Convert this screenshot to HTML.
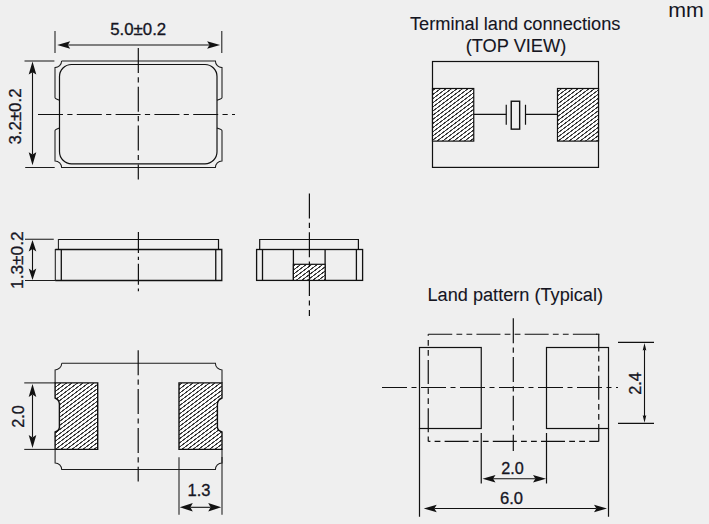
<!DOCTYPE html>
<html><head><meta charset="utf-8"><title>Dimensions</title>
<style>
html,body{margin:0;padding:0;background:#efefef;}
svg{display:block;font-family:"Liberation Sans",Arial,Helvetica,sans-serif;fill:#15151f;}
text{stroke:#15151f;}
</style></head>
<body>
<svg width="709" height="524" viewBox="0 0 709 524">
<defs>
<pattern id="h" patternUnits="userSpaceOnUse" width="20" height="3.31" patternTransform="rotate(-37)">
<rect x="0" y="0" width="20" height="3.31" fill="#fff"/>
<line x1="0" y1="1.65" x2="20" y2="1.65" stroke="#000" stroke-width="1.0"/>
</pattern>
<filter id="c" x="0" y="0" width="1" height="1" color-interpolation-filters="sRGB"><feComponentTransfer><feFuncR type="linear" slope="4" intercept="-1.38"/><feFuncG type="linear" slope="4" intercept="-1.38"/><feFuncB type="linear" slope="4" intercept="-1.38"/></feComponentTransfer></filter>
</defs>
<rect x="0" y="0" width="709" height="524" fill="#efefef"/>
<path d="M61.6 61 H215.4 A6.6 6.6 0 0 0 222 67.6 V97.6 Q221.8 98.6 217 100.2 M217 128 Q221.8 129.6 222 130.6 V160.9 A6.6 6.6 0 0 0 215.4 167.5 H61.6 A6.6 6.6 0 0 0 55 160.9 V130.6 Q55.2 129.6 59.5 128 M59.5 100.2 Q55.2 98.6 55 97.6 V67.6 A6.6 6.6 0 0 0 61.6 61" fill="none" stroke="#1c1c1c" stroke-width="1.05"/>
<rect x="59.5" y="64.5" width="157.5" height="99.3" rx="12" fill="none" stroke="#111111" stroke-width="1.2"/>
<line x1="55.0" y1="31" x2="55.0" y2="53" stroke="#1c1c1c" stroke-width="1.05"/>
<line x1="221.8" y1="31" x2="221.8" y2="53" stroke="#1c1c1c" stroke-width="1.05"/>
<line x1="24.5" y1="61" x2="54.4" y2="61" stroke="#1c1c1c" stroke-width="1.05"/>
<line x1="25.2" y1="167.5" x2="54.7" y2="167.5" stroke="#1c1c1c" stroke-width="1.05"/>
<line x1="67.80" y1="45.00" x2="209.50" y2="45.00" stroke="#111111" stroke-width="1.1"/>
<path d="M57.20 45.00 L70.20 48.80 L67.80 45.00 L70.20 41.20 Z" fill="#111111"/>
<path d="M220.10 45.00 L207.10 48.80 L209.50 45.00 L207.10 41.20 Z" fill="#111111"/>
<line x1="32.50" y1="72.20" x2="32.50" y2="154.60" stroke="#111111" stroke-width="1.1"/>
<path d="M32.50 61.60 L28.70 74.60 L32.50 72.20 L36.30 74.60 Z" fill="#111111"/>
<path d="M32.50 165.20 L28.70 152.20 L32.50 154.60 L36.30 152.20 Z" fill="#111111"/>
<line x1="38" y1="114.5" x2="235" y2="114.5" stroke="#111111" stroke-width="1.2" stroke-dasharray="25 4.3 5.2 4.3" stroke-dashoffset="0"/>
<line x1="138.3" y1="48" x2="138.3" y2="179.6" stroke="#111111" stroke-width="1.2" stroke-dasharray="25 4.3 5.2 4.3" stroke-dashoffset="0"/>
<text x="138.2" y="34.6" font-size="15.6" stroke-width="0.3" text-anchor="middle" textLength="56" lengthAdjust="spacingAndGlyphs">5.0±0.2</text>
<text transform="translate(20.5 116.5) rotate(-90)" font-size="15.6" stroke-width="0.3" text-anchor="middle" textLength="56" lengthAdjust="spacingAndGlyphs">3.2±0.2</text>
<path d="M58.4 239.5 H218.5 V249.5" fill="none" stroke="#111111" stroke-width="1.2"/>
<line x1="58.4" y1="238.9" x2="58.4" y2="249.5" stroke="#1c1c1c" stroke-width="1.05"/>
<line x1="55.3" y1="248.9" x2="55.3" y2="281.1" stroke="#1c1c1c" stroke-width="1.05"/>
<path d="M55.3 249.5 H221.8 V280.5 H55.3" fill="none" stroke="#111111" stroke-width="1.3"/>
<line x1="61.3" y1="249.5" x2="61.3" y2="280.5" stroke="#111111" stroke-width="1.3"/>
<line x1="215.75" y1="249.5" x2="215.75" y2="280.5" stroke="#111111" stroke-width="1.3"/>
<line x1="25" y1="239.25" x2="53.75" y2="239.25" stroke="#1c1c1c" stroke-width="1.05"/>
<line x1="25" y1="280.5" x2="55" y2="280.5" stroke="#1c1c1c" stroke-width="1.05"/>
<line x1="32.50" y1="249.00" x2="32.50" y2="270.90" stroke="#111111" stroke-width="1.1"/>
<path d="M32.50 239.90 L28.70 251.40 L32.50 249.00 L36.30 251.40 Z" fill="#111111"/>
<path d="M32.50 280.00 L28.70 268.50 L32.50 270.90 L36.30 268.50 Z" fill="#111111"/>
<text transform="translate(23.1 260.2) rotate(-90)" font-size="15.6" stroke-width="0.3" text-anchor="middle" textLength="57.5" lengthAdjust="spacingAndGlyphs">1.3±0.2</text>
<line x1="138.4" y1="232" x2="138.4" y2="291.3" stroke="#111111" stroke-width="1.2" stroke-dasharray="21 3.8 3.3 3.7" stroke-dashoffset="0"/>
<path d="M259.7 249.5 V239.5 H358.4 V249.5" fill="none" stroke="#111111" stroke-width="1.2"/>
<rect x="256.6" y="249.5" width="106" height="30.9" fill="none" stroke="#111111" stroke-width="1.3"/>
<line x1="262.5" y1="249.5" x2="262.5" y2="280.4" stroke="#111111" stroke-width="1.3"/>
<line x1="356.4" y1="249.5" x2="356.4" y2="280.4" stroke="#111111" stroke-width="1.3"/>
<line x1="293.4" y1="249.5" x2="293.4" y2="280.4" stroke="#111111" stroke-width="1.3"/>
<line x1="325.1" y1="249.5" x2="325.1" y2="280.4" stroke="#111111" stroke-width="1.3"/>
<rect x="293.4" y="264.3" width="31.7" height="16.1" fill="url(#h)" filter="url(#c)"/><rect x="293.4" y="264.3" width="31.7" height="16.1" fill="none" stroke="#111111" stroke-width="1.2"/>
<line x1="309.4" y1="193.5" x2="309.4" y2="316" stroke="#111111" stroke-width="1.2" stroke-dasharray="25 4.3 5.2 4.3" stroke-dashoffset="0"/>
<path d="M61.7 363.3 H215.4 A6.6 6.6 0 0 0 222 369.9 V382.9 M222 449.4 V462.9 A6.6 6.6 0 0 0 215.4 469.5 H61.7 A6.6 6.6 0 0 0 55.1 462.9 V449.4 M55.1 382.9 V369.9 A6.6 6.6 0 0 0 61.7 363.3" fill="none" stroke="#1c1c1c" stroke-width="1.05"/>
<path d="M55.1 382.9 H97.7 V449.4 H55.1 V432 Q59.1 430.8 59.4 427.4 V404 Q59.1 399.6 55.1 398 Z" fill="url(#h)" filter="url(#c)"/><path d="M55.1 382.9 H97.7 V449.4 H55.1 V432 Q59.1 430.8 59.4 427.4 V404 Q59.1 399.6 55.1 398 Z" fill="none" stroke="#111111" stroke-width="1.4"/>
<path d="M179 382.9 H222 V398 Q217.8 399.6 217.4 404 V427.4 Q217.8 430.8 222 432 V449.4 H179 Z" fill="url(#h)" filter="url(#c)"/><path d="M179 382.9 H222 V398 Q217.8 399.6 217.4 404 V427.4 Q217.8 430.8 222 432 V449.4 H179 Z" fill="none" stroke="#111111" stroke-width="1.4"/>
<line x1="24.25" y1="382.9" x2="55" y2="382.9" stroke="#1c1c1c" stroke-width="1.05"/>
<line x1="24.25" y1="449.4" x2="55" y2="449.4" stroke="#1c1c1c" stroke-width="1.05"/>
<line x1="32.50" y1="394.60" x2="32.50" y2="437.40" stroke="#111111" stroke-width="1.1"/>
<path d="M32.50 384.00 L28.70 397.00 L32.50 394.60 L36.30 397.00 Z" fill="#111111"/>
<path d="M32.50 448.00 L28.70 435.00 L32.50 437.40 L36.30 435.00 Z" fill="#111111"/>
<text transform="translate(23.75 416.5) rotate(-90)" font-size="15.6" stroke-width="0.3" text-anchor="middle" textLength="22.5" lengthAdjust="spacingAndGlyphs">2.0</text>
<line x1="179.0" y1="457.2" x2="179.0" y2="514.8" stroke="#1c1c1c" stroke-width="1.05"/>
<line x1="222.0" y1="457" x2="222.0" y2="514.8" stroke="#1c1c1c" stroke-width="1.05"/>
<line x1="190.40" y1="507.30" x2="210.60" y2="507.30" stroke="#111111" stroke-width="1.1"/>
<path d="M179.80 507.30 L192.80 511.50 L190.40 507.30 L192.80 503.10 Z" fill="#111111"/>
<path d="M221.20 507.30 L208.20 511.50 L210.60 507.30 L208.20 503.10 Z" fill="#111111"/>
<text x="199" y="496" font-size="15.6" stroke-width="0.3" text-anchor="middle" textLength="23" lengthAdjust="spacingAndGlyphs">1.3</text>
<line x1="138.2" y1="350.3" x2="138.2" y2="481.5" stroke="#111111" stroke-width="1.2" stroke-dasharray="25 4.3 5.2 4.3" stroke-dashoffset="0"/>
<text x="515.2" y="29.6" font-size="18" stroke-width="0.1" text-anchor="middle" textLength="210.5" lengthAdjust="spacingAndGlyphs">Terminal land connections</text>
<text x="516" y="51.8" font-size="18" stroke-width="0.1" text-anchor="middle" textLength="100.5" lengthAdjust="spacingAndGlyphs">(TOP VIEW)</text>
<rect x="432.5" y="61.5" width="166" height="105.9" fill="none" stroke="#111111" stroke-width="1.2"/>
<rect x="432.5" y="88.5" width="41.25" height="52.6" fill="url(#h)" filter="url(#c)"/><rect x="432.5" y="88.5" width="41.25" height="52.6" fill="none" stroke="#111111" stroke-width="1.2"/>
<rect x="557.5" y="88.5" width="41" height="52.6" fill="url(#h)" filter="url(#c)"/><rect x="557.5" y="88.5" width="41" height="52.6" fill="none" stroke="#111111" stroke-width="1.2"/>
<line x1="473.75" y1="114.4" x2="506.25" y2="114.4" stroke="#111111" stroke-width="1.2"/>
<line x1="525.5" y1="114.4" x2="557.5" y2="114.4" stroke="#111111" stroke-width="1.2"/>
<line x1="506.25" y1="104.75" x2="506.25" y2="124.75" stroke="#111111" stroke-width="1.2"/>
<line x1="525.5" y1="104.75" x2="525.5" y2="124.75" stroke="#111111" stroke-width="1.2"/>
<rect x="511.25" y="101.25" width="8.4" height="27.9" fill="none" stroke="#111111" stroke-width="1.4"/>
<text x="515.25" y="300.8" font-size="18" stroke-width="0.1" text-anchor="middle" textLength="175.5" lengthAdjust="spacingAndGlyphs">Land pattern (Typical)</text>
<rect x="419.5" y="347.5" width="61.75" height="81" fill="none" stroke="#111111" stroke-width="1.2"/>
<rect x="546.5" y="347.5" width="62" height="81" fill="none" stroke="#111111" stroke-width="1.2"/>
<line x1="419.5" y1="428.5" x2="419.5" y2="516.75" stroke="#111111" stroke-width="1.2"/>
<line x1="608.5" y1="428.5" x2="608.5" y2="516.75" stroke="#111111" stroke-width="1.2"/>
<line x1="481.25" y1="433" x2="481.25" y2="483.5" stroke="#111111" stroke-width="1.2"/>
<line x1="546.5" y1="433" x2="546.5" y2="483.5" stroke="#111111" stroke-width="1.2"/>
<line x1="428.25" y1="334.25" x2="598.75" y2="334.25" stroke="#111111" stroke-width="1.2" stroke-dasharray="24 4.2 5.8 4.2 5.8 4.2" stroke-dashoffset="0"/>
<line x1="596" y1="334.25" x2="599.35" y2="334.25" stroke="#111111" stroke-width="1.2"/>
<line x1="598.75" y1="334.25" x2="598.75" y2="441.4" stroke="#111111" stroke-width="1.2" stroke-dasharray="24 4.2 5.8 4.2 5.8 4.2" stroke-dashoffset="6.75"/>
<line x1="428.25" y1="441.4" x2="598.75" y2="441.4" stroke="#111111" stroke-width="1.2" stroke-dasharray="24 4.2 5.8 4.2 5.8 4.2" stroke-dashoffset="31.85"/>
<line x1="428.25" y1="334.25" x2="428.25" y2="441.4" stroke="#111111" stroke-width="1.2" stroke-dasharray="24 4.2 5.8 4.2 5.8 4.2" stroke-dashoffset="22.45"/>
<line x1="382" y1="387.5" x2="618" y2="387.5" stroke="#111111" stroke-width="1.2" stroke-dasharray="25 4.5 5 4.5" stroke-dashoffset="0"/>
<line x1="513.3" y1="318.25" x2="513.3" y2="451" stroke="#111111" stroke-width="1.2" stroke-dasharray="25 4.3 5.2 4.3" stroke-dashoffset="0"/>
<line x1="618" y1="342.4" x2="654" y2="342.4" stroke="#111111" stroke-width="1.2"/>
<line x1="618" y1="423.3" x2="654" y2="423.3" stroke="#111111" stroke-width="1.2"/>
<line x1="644.50" y1="349.80" x2="644.50" y2="416.00" stroke="#111111" stroke-width="1.1"/>
<path d="M644.50 343.00 L642.70 350.60 L644.50 349.80 L646.30 350.60 Z" fill="#111111"/>
<path d="M644.50 422.80 L642.70 415.20 L644.50 416.00 L646.30 415.20 Z" fill="#111111"/>
<text transform="translate(640.75 383.5) rotate(-90)" font-size="15.6" stroke-width="0.3" text-anchor="middle" textLength="22.5" lengthAdjust="spacingAndGlyphs">2.4</text>
<line x1="493.10" y1="478.75" x2="535.40" y2="478.75" stroke="#111111" stroke-width="1.1"/>
<path d="M482.50 478.75 L495.50 482.55 L493.10 478.75 L495.50 474.95 Z" fill="#111111"/>
<path d="M546.00 478.75 L533.00 482.55 L535.40 478.75 L533.00 474.95 Z" fill="#111111"/>
<text x="512.5" y="474.25" font-size="15.6" stroke-width="0.3" text-anchor="middle" textLength="22.5" lengthAdjust="spacingAndGlyphs">2.0</text>
<line x1="434.35" y1="508.50" x2="596.40" y2="508.50" stroke="#111111" stroke-width="1.1"/>
<path d="M423.75 508.50 L436.75 512.30 L434.35 508.50 L436.75 504.70 Z" fill="#111111"/>
<path d="M607.00 508.50 L594.00 512.30 L596.40 508.50 L594.00 504.70 Z" fill="#111111"/>
<text x="511.5" y="503.75" font-size="15.6" stroke-width="0.3" text-anchor="middle" textLength="23" lengthAdjust="spacingAndGlyphs">6.0</text>
<text x="686" y="16.7" font-size="19.5" stroke-width="0" text-anchor="middle" textLength="35.6" lengthAdjust="spacingAndGlyphs">mm</text>
</svg>
</body></html>
